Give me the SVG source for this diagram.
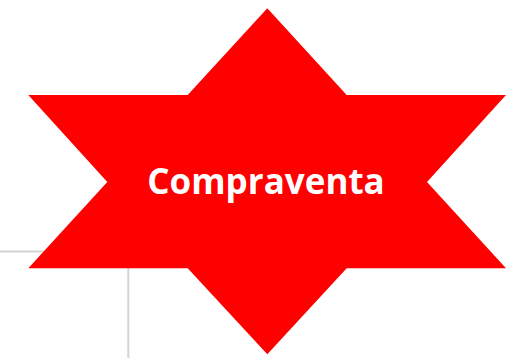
<svg xmlns="http://www.w3.org/2000/svg" width="511" height="358" viewBox="0 0 511 358">
<style>
.guide{stroke:#d3d3d3;stroke-width:2;fill:none}
.star{fill:#ff0000}
.label{font-family:"Open Sans","Noto Sans",sans-serif;font-weight:bold;font-size:35px;fill:#ffffff;text-anchor:middle}
</style>
<rect width="511" height="358" fill="#ffffff"/>
<g id="guides">
<line class="guide" x1="0" y1="251.5" x2="140" y2="251.5"/>
<line class="guide" x1="128.3" y1="260" x2="128.3" y2="358"/>
</g>
<g id="star">
<polygon class="star" points="267.3,8.3 346.7,95 506,95 427,182 506,268.3 346.7,268.3 267.3,354.3 187.7,268.3 28.3,268.3 107.3,182 28.3,95 187.7,95"/>
<text class="label" x="266" y="194.3">Compraventa</text>
</g>
</svg>
